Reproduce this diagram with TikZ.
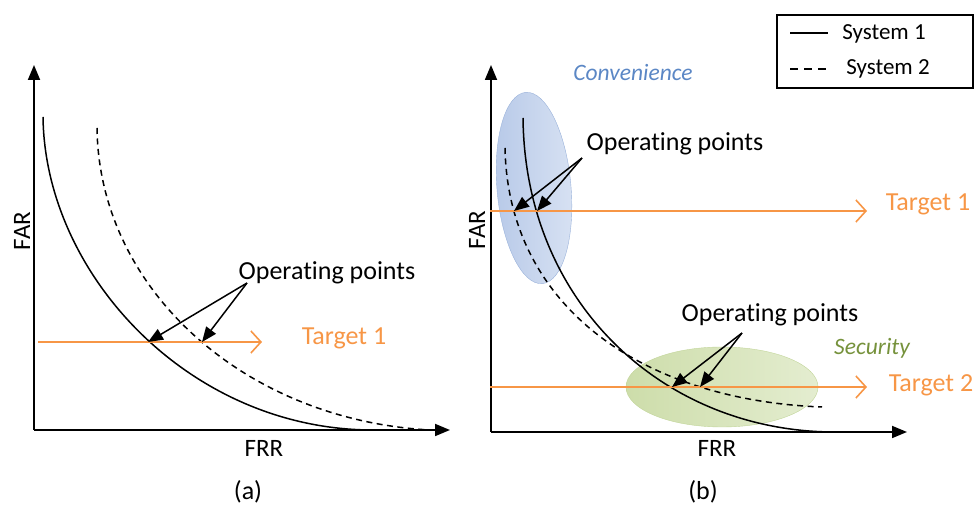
\documentclass[tikz,border=0pt]{standalone}
\usepackage{fontspec}
\setmainfont{Carlito}[Ligatures=NoCommon]
\usetikzlibrary{arrows.meta}

\definecolor{tgtorange}{HTML}{F79646}
\definecolor{convtext}{HTML}{5B87C5}
\definecolor{sectext}{HTML}{76923C}
\definecolor{convdark}{HTML}{B7C9E8}
\definecolor{convlight}{HTML}{D8E2F3}
\definecolor{convline}{HTML}{9AB2DA}
\definecolor{secdark}{HTML}{CDDDAA}
\definecolor{seclight}{HTML}{E4EDD0}
\definecolor{secline}{HTML}{C2D59A}

\begin{document}
\begin{tikzpicture}[x=1pt,y=1pt,>={Triangle[length=15pt,width=12pt]},
        axis/.style={->,line width=1.8pt},
        sysone/.style={line width=1.5pt},
        systwo/.style={line width=1.5pt,dash pattern=on 6pt off 4.5pt},
        target/.style={tgtorange,line width=1.6pt,
          -{Straight Barb[length=10pt,width=22pt,line width=1.6pt]}},
        oparrow/.style={->,line width=1.5pt},
        small/.style={font=\fontsize{25}{29}\selectfont,inner sep=0pt},
        big/.style={font=\fontsize{26}{30}\selectfont,inner sep=0pt},
        legend/.style={font=\fontsize{23}{27}\selectfont,inner sep=0pt},
        zone/.style={font=\fontsize{23.5}{28}\selectfont\itshape,inner sep=0pt}]

  \useasboundingbox (0,0) rectangle (979,505);

  % (a)
  \coordinate (oa) at (34,75);
  \coordinate (ya) at (34,440);
  \coordinate (xa) at (450,75);
  \draw[axis] (oa) -- (ya);
  \draw[axis] (oa) -- (xa);
  \node[small,rotate=90] (fara) at (22,274) {FAR};
  \node[small] (frra) at (264,57) {FRR};
  \node[big] (capa) at (248,13) {(a)};

  \draw[sysone] (43,388) .. controls (45,230) and (190,75) .. (373,75);
  \draw[systwo] (97,377) .. controls (99,215) and (245,85) .. (430,75);

  \coordinate (ta0) at (38,163);
  \coordinate (ta1) at (262,163);
  \draw[target] (ta0) -- (ta1);
  \node[big,tgtorange,anchor=mid] (tgta) at (344,163) {Target 1};

  \node[big,anchor=mid] (opa) at (327,228) {Operating points};
  \coordinate (opa-src) at (247,222);
  \coordinate (opa-1) at (148,163);
  \coordinate (opa-2) at (202,163);
  \draw[oparrow] (opa-src) -- (opa-1);
  \draw[oparrow] (opa-src) -- (opa-2);

  % (b)
  \draw[draw=convline,left color=convdark,right color=convlight,rotate around={5:(534,317)}]
    (534,317) ellipse [x radius=37pt,y radius=96pt];
  \draw[draw=secline,left color=secdark,right color=seclight]
    (722,118) ellipse [x radius=96pt,y radius=40pt];
  \node[zone,convtext] (conv) at (633,432) {Convenience};
  \node[zone,sectext] (sec) at (872,157) {Security};

  \coordinate (ob) at (491,73);
  \coordinate (yb) at (491,440);
  \coordinate (xb) at (907,73);
  \draw[axis] (ob) -- (yb);
  \draw[axis] (ob) -- (xb);
  \node[small,rotate=90] (farb) at (477,275) {FAR};
  \node[small] (frrb) at (717,57) {FRR};
  \node[big] (capb) at (703,13) {(b)};

  \draw[sysone] (523,387) .. controls (525,200) and (665,74) .. (833,73);
  \draw[systwo] (505,357) .. controls (508,200) and (640,105) .. (822,98);

  \coordinate (tb0) at (490,294);
  \coordinate (tb1) at (867,294);
  \draw[target] (tb0) -- (tb1);
  \node[big,tgtorange,anchor=mid] (tgtb1) at (928,297) {Target 1};
  \coordinate (tc0) at (490,118);
  \coordinate (tc1) at (867,118);
  \draw[target] (tc0) -- (tc1);
  \node[big,tgtorange,anchor=mid] (tgtb2) at (931,116) {Target 2};

  \node[big,anchor=mid] (opb) at (675,357) {Operating points};
  \coordinate (opb-src) at (582,347);
  \coordinate (opb-1) at (514,294);
  \coordinate (opb-2) at (537,294);
  \draw[oparrow] (opb-src) -- (opb-1);
  \draw[oparrow] (opb-src) -- (opb-2);

  \node[big,anchor=mid] (opc) at (770,186) {Operating points};
  \coordinate (opc-src) at (742,172);
  \coordinate (opc-1) at (672,118);
  \coordinate (opc-2) at (700,118);
  \draw[oparrow] (opc-src) -- (opc-1);
  \draw[oparrow] (opc-src) -- (opc-2);

  % legend
  \draw[line width=1.2pt] (777,417) rectangle (973,490);
  \coordinate (l1a) at (790,472);
  \coordinate (l1b) at (828,472);
  \coordinate (l2a) at (790,436);
  \coordinate (l2b) at (828,436);
  \draw[line width=1.3pt] (l1a) -- (l1b);
  \draw[line width=1.3pt,dash pattern=on 8pt off 6pt] (l2a) -- (l2b);
  \node[legend,anchor=mid] (leg1) at (884,468) {System 1};
  \node[legend,anchor=mid] (leg2) at (888,433) {System 2};

\end{tikzpicture}
\end{document}
